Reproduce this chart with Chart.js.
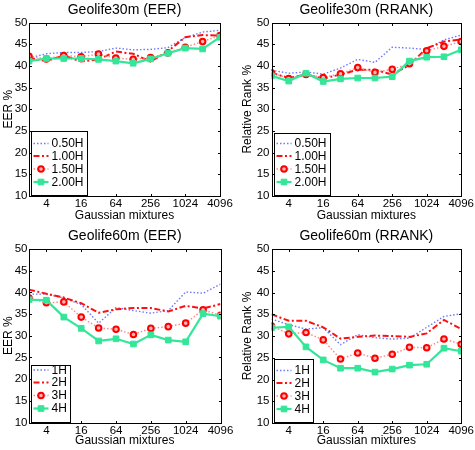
<!DOCTYPE html>
<html>
<head>
<meta charset="utf-8">
<script src="https://cdn.jsdelivr.net/npm/chart.js@4.4.0/dist/chart.umd.min.js"></script>
<style>
  html, body { margin: 0; padding: 0; background: #fff; }
  #wrap { position: relative; width: 475px; height: 450px; overflow: hidden; }
  #wrap canvas { position: absolute; }
</style>
</head>
<body>
<div id="wrap">
  <canvas id="c30eer" width="237" height="225" style="left:0;top:0"></canvas>
  <canvas id="c30rank" width="238" height="225" style="left:237px;top:0"></canvas>
  <canvas id="c60eer" width="237" height="225" style="left:0;top:225px"></canvas>
  <canvas id="c60rank" width="238" height="225" style="left:237px;top:225px"></canvas>
</div>
<script>
// number of gaussian mixtures (x, log2 axis)
const mixtures = [2, 4, 8, 16, 32, 64, 128, 256, 512, 1024, 2048, 4096];
const xTickValues = [4, 16, 64, 256, 1024, 4096];

const labels30 = ["0.50H", "1.00H", "1.50H", "2.00H"];
const labels60 = ["1H", "2H", "3H", "4H"];

// Geolife30m (EER)
const eer30_050 = [41.8, 42.8, 43.1, 43.1, 43.3, 44.1, 43.7, 43.8, 44.2, 46.5, 47.8, 48.2];
const eer30_100 = [41.8, 41.1, 42.4, 41.0, 41.5, 43.3, 42.8, 41.0, 43.4, 46.6, 47.1, 47.0];
const eer30_150 = [42.2, 41.6, 42.4, 42.1, 42.7, 41.8, 41.5, 41.9, 43.0, 44.3, 45.6, 47.0];
const eer30_200 = [41.1, 41.7, 41.7, 41.7, 41.5, 41.1, 40.6, 41.6, 42.9, 44.1, 43.9, 46.6];

// Geolife30m (RRANK)
const rank30_050 = [39.0, 38.3, 38.6, 38.1, 39.5, 41.5, 40.8, 44.3, 44.1, 43.8, 46.0, 47.1];
const rank30_100 = [38.4, 37.2, 38.0, 37.1, 38.0, 39.1, 39.1, 38.0, 40.2, 44.1, 45.6, 46.1];
const rank30_150 = [38.4, 37.1, 38.0, 37.3, 38.2, 39.6, 38.5, 39.2, 40.5, 43.5, 44.5, 45.6];
const rank30_200 = [37.7, 36.5, 38.3, 36.4, 37.0, 37.2, 37.2, 37.5, 41.1, 42.0, 42.1, 43.7];

// Geolife60m (EER)
const eer60_1h = [39.6, 39.6, 38.7, 37.2, 32.9, 36.5, 35.8, 35.2, 35.8, 40.1, 39.8, 41.9];
const eer60_2h = [40.6, 39.7, 38.8, 37.5, 35.3, 36.1, 36.4, 36.4, 35.6, 36.9, 36.3, 37.3];
const eer60_3h = [38.7, 37.6, 37.8, 34.3, 31.8, 31.5, 30.3, 31.7, 32.1, 32.9, 36.0, 34.7];
const eer60_4h = [38.3, 38.2, 34.3, 31.7, 28.8, 29.3, 28.1, 30.2, 29.0, 28.6, 35.1, 34.5];

// Geolife60m (RRANK)
const rank60_1h = [33.9, 32.6, 31.6, 31.9, 28.0, 30.3, 29.6, 29.3, 29.5, 32.0, 34.5, 35.1];
const rank60_2h = [35.0, 33.5, 33.5, 32.0, 29.4, 29.8, 30.1, 30.0, 29.8, 30.6, 33.7, 31.6];
const rank60_3h = [32.3, 30.5, 30.8, 29.1, 24.7, 26.1, 24.9, 25.8, 27.4, 27.3, 29.3, 28.1];
const rank60_4h = [31.9, 32.1, 27.5, 24.5, 22.6, 22.6, 21.7, 22.4, 23.3, 23.5, 27.2, 26.5];

const FONT = "'Liberation Sans', Arial, Helvetica, sans-serif";

// line look per series, same order as the legends
const seriesStyle = [
    { borderColor: "#6b78ff", borderWidth: 1.4, borderDash: [1.5, 2], pointRadius: 0 },
    { borderColor: "#ff1010", borderWidth: 2, borderDash: [6, 2.5, 2, 2.5], pointRadius: 0 },
    { borderColor: "#ff8a8a", borderWidth: 1.5, borderDash: [1.5, 2], pointRadius: 2.8, pointStyle: "circle",
      pointBorderColor: "#ff0000", pointBackgroundColor: "#ffb4b4", pointBorderWidth: 2 },
    { borderColor: "#33e699", borderWidth: 2.2, borderDash: [], pointRadius: 4, pointStyle: "rect",
      pointBorderColor: "#33e699", pointBackgroundColor: "#33e699", pointBorderWidth: 1 },
];

// box, inward ticks, panel title and the legend inside the axes (matlab look)
const matlabAxes = {
    id: "matlabAxes",
    afterDraw(chart, args, opts) {
        const { ctx, chartArea: a } = chart;
        const xs = chart.scales.x, ys = chart.scales.y;
        const px = (v) => Math.round(v) + 0.5;
        const L = px(a.left), R = px(a.right), T = px(a.top), B = px(a.bottom);
        const tl = 2.5;
        ctx.save();
        ctx.strokeStyle = "#000";
        ctx.lineWidth = 1;
        ctx.setLineDash([]);
        ctx.beginPath();
        xTickValues.forEach((v) => {
            const x = px(xs.getPixelForValue(v));
            ctx.moveTo(x, B); ctx.lineTo(x, B - tl);
            ctx.moveTo(x, T); ctx.lineTo(x, T + tl);
        });
        ys.ticks.forEach((t) => {
            const y = px(ys.getPixelForValue(t.value));
            ctx.moveTo(L, y); ctx.lineTo(L + tl, y);
            ctx.moveTo(R, y); ctx.lineTo(R - tl, y);
        });
        ctx.stroke();
        ctx.strokeRect(L, T, R - L, B - T);

        // title
        ctx.fillStyle = "#000";
        ctx.font = "14px " + FONT;
        ctx.textAlign = "center";
        ctx.textBaseline = "middle";
        ctx.fillText(opts.title, (a.left + a.right) / 2, a.top - 12.5);

        // legend
        ctx.font = "12px " + FONT;
        const names = chart.data.datasets.map((d) => d.label);
        const textW = Math.max(...names.map((n) => ctx.measureText(n).width));
        const bx = px(a.left + 2), bb = px(a.bottom - 1);
        const bt = px(a.bottom - opts.legendTop);
        const bw = Math.round(20 + textW + 4);
        ctx.fillStyle = "#fff";
        ctx.fillRect(bx, bt, bw, bb - bt);
        ctx.strokeRect(bx, bt, bw, bb - bt);
        const rowOffsets = [52.5, 40, 27, 14];
        chart.data.datasets.forEach((d, i) => {
            const y = a.bottom - rowOffsets[i];
            ctx.strokeStyle = d.borderColor;
            ctx.lineWidth = d.borderWidth;
            ctx.setLineDash(d.borderDash);
            ctx.beginPath();
            ctx.moveTo(bx + 2, y); ctx.lineTo(bx + 17, y);
            ctx.stroke();
            ctx.setLineDash([]);
            if (d.pointRadius > 0) {
                ctx.fillStyle = d.pointBackgroundColor;
                ctx.strokeStyle = d.pointBorderColor;
                ctx.lineWidth = d.pointBorderWidth;
                ctx.beginPath();
                if (d.pointStyle === "rect") {
                    const s = d.pointRadius * Math.SQRT1_2;
                    ctx.rect(bx + 9.5 - s, y - s, 2 * s, 2 * s);
                } else {
                    ctx.arc(bx + 9.5, y, d.pointRadius, 0, Math.PI * 2);
                }
                ctx.fill();
                ctx.stroke();
            }
            ctx.fillStyle = "#000";
            ctx.textAlign = "left";
            ctx.fillText(d.label, bx + 20, y + 0.5);
        });
        ctx.restore();
    },
};

function makePanel(id, title, yTitle, names, series, geo) {
    const datasets = series.map((values, i) => Object.assign({
        label: names[i],
        data: mixtures.map((m, k) => ({ x: m, y: values[k] })),
        order: 3 - i,
        fill: false,
        tension: 0,
    }, seriesStyle[i]));

    return new Chart(document.getElementById(id), {
        type: "line",
        data: { datasets },
        plugins: [matlabAxes],
        options: {
            responsive: false,
            animation: false,
            events: [],
            layout: { padding: { top: geo.top, right: geo.right, bottom: 0, left: 0 } },
            plugins: {
                legend: { display: false },
                tooltip: { enabled: false },
                matlabAxes: { title: title, legendTop: geo.legendTop },
            },
            scales: {
                x: {
                    type: "logarithmic",
                    min: 2,
                    max: 4096,
                    grid: { display: false, drawTicks: false },
                    border: { display: false },
                    afterBuildTicks: (s) => { s.ticks = xTickValues.map((v) => ({ value: v })); },
                    afterFit: (s) => { s.height = geo.xAxisH; },
                    ticks: {
                        autoSkip: false, maxRotation: 0, padding: 1, color: "#000",
                        font: { family: FONT, size: 11.5 },
                        callback: (v) => String(v),
                    },
                    title: {
                        display: true, text: "Gaussian mixtures", color: "#000",
                        font: { family: FONT, size: 12 }, padding: { top: 0, bottom: 1.8 },
                    },
                },
                y: {
                    min: 10,
                    max: 50,
                    grid: { display: false, drawTicks: false },
                    border: { display: false },
                    afterFit: (s) => { s.width = geo.yAxisW; },
                    ticks: { stepSize: 5, padding: geo.yTickPad, color: "#000", font: { family: FONT, size: 11.5 } },
                    title: {
                        display: true, text: yTitle, color: "#000",
                        font: { family: FONT, size: 12 }, padding: { top: geo.yTitlePad, bottom: 0 },
                    },
                },
            },
        },
    });
}

makePanel("c30eer", "Geolife30m (EER)", "EER %", labels30,
    [eer30_050, eer30_100, eer30_150, eer30_200],
    { top: 22.5, right: 17, xAxisH: 29, yAxisW: 29, yTickPad: 1.5, yTitlePad: 1.8, legendTop: 65 });

makePanel("c30rank", "Geolife30m (RRANK)", "Relative Rank %", labels30,
    [rank30_050, rank30_100, rank30_150, rank30_200],
    { top: 22.5, right: 12, xAxisH: 29, yAxisW: 34.5, yTickPad: 2, yTitlePad: 3.8, legendTop: 63 });

makePanel("c60eer", "Geolife60m (EER)", "EER %", labels60,
    [eer60_1h, eer60_2h, eer60_3h, eer60_4h],
    { top: 24, right: 16.5, xAxisH: 27.5, yAxisW: 29, yTickPad: 1.5, yTitlePad: 1.8, legendTop: 58 });

makePanel("c60rank", "Geolife60m (RRANK)", "Relative Rank %", labels60,
    [rank60_1h, rank60_2h, rank60_3h, rank60_4h],
    { top: 24, right: 12, xAxisH: 27, yAxisW: 34.5, yTickPad: 2, yTitlePad: 3.8, legendTop: 64 });
</script>
</body>
</html>
